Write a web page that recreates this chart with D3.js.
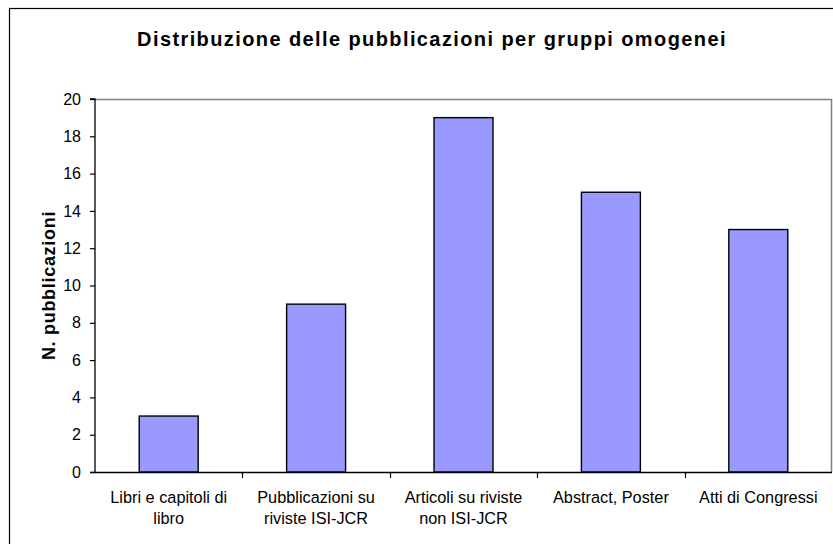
<!DOCTYPE html>
<html>
<head>
<meta charset="utf-8">
<script src="https://cdn.jsdelivr.net/npm/d3@7"></script>
<style>
  body { margin: 0; background: #fff; }
  svg { display: block; font-family: "Liberation Sans", Arial, sans-serif; }
</style>
</head>
<body>
<svg id="chart" width="833" height="544"></svg>
<script>
// Publications grouped by type
const categories = [
  ["Libri e capitoli di", "libro"],
  ["Pubblicazioni su", "riviste ISI-JCR"],
  ["Articoli su riviste", "non ISI-JCR"],
  ["Abstract, Poster"],
  ["Atti di Congressi"]
];
const values = [3, 9, 19, 15, 13];
const yTicks = [0, 2, 4, 6, 8, 10, 12, 14, 16, 18, 20];
const titleText = "Distribuzione delle pubblicazioni per gruppi omogenei";
const yTitle = "N. pubblicazioni";

const svg = d3.select("#chart");
const W = 833, H = 544;
const plot = { left: 95, right: 832, top: 99, bottom: 472 };

// Outer chart frame (extends past the window on the right and bottom)
svg.append("rect")
  .attr("x", 9.5).attr("y", 8.5)
  .attr("width", W + 20).attr("height", H + 20)
  .attr("fill", "#fff").attr("stroke", "#000").attr("stroke-width", 1.2);

const keys = categories.map(c => c.join(" "));
const x = d3.scaleBand().domain(keys).range([plot.left, plot.right]).paddingInner(0.6).paddingOuter(0.3);
const xBoundaries = d3.scaleBand().domain(keys).range([plot.left, plot.right]);
const y = d3.scaleLinear().domain([0, 20]).range([plot.bottom, plot.top]);

// Plot area frame (top and right edges in grey)
svg.append("path")
  .attr("d", `M${plot.left},${plot.top + 0.5}H${plot.right - 0.5}V${plot.bottom}`)
  .attr("fill", "none").attr("stroke", "#808080").attr("stroke-width", 1.5);

// Bars
svg.append("g").selectAll("rect")
  .data(values)
  .join("rect")
  .attr("x", (d, i) => x(keys[i]))
  .attr("y", d => y(d))
  .attr("width", x.bandwidth())
  .attr("height", d => y(0) - y(d))
  .attr("fill", "#9999FF")
  .attr("stroke", "#000")
  .attr("stroke-width", 1.4);

// Y axis
const yAxis = svg.append("g")
  .attr("transform", `translate(${plot.left},0)`)
  .call(d3.axisLeft(y).tickValues(yTicks).tickSize(5).tickPadding(9).tickFormat(d3.format("d")));
yAxis.select(".domain").attr("stroke", "#000").attr("stroke-width", 1.3).attr("d", `M-5,${plot.top}H0V${plot.bottom}`);
yAxis.selectAll(".tick line").attr("stroke", "#000").attr("stroke-width", 1.2);
yAxis.selectAll(".tick text").attr("font-size", 16).attr("fill", "#000")
  .attr("font-family", "'Liberation Sans', Arial, sans-serif");

// X axis line with ticks at category boundaries
const xg = svg.append("g");
xg.append("line")
  .attr("x1", plot.left - 5).attr("x2", plot.right)
  .attr("y1", plot.bottom + 0.5).attr("y2", plot.bottom + 0.5)
  .attr("stroke", "#000").attr("stroke-width", 1.3);
const bounds = keys.map(k => xBoundaries(k)).concat([plot.right]);
xg.selectAll("line.tick")
  .data(bounds.slice(1, -1))
  .join("line")
  .attr("class", "tick")
  .attr("x1", d => Math.round(d) + 0.5).attr("x2", d => Math.round(d) + 0.5)
  .attr("y1", plot.bottom).attr("y2", plot.bottom + 6)
  .attr("stroke", "#000").attr("stroke-width", 1.2);

// Category labels
categories.forEach((lines, i) => {
  const cx = xBoundaries(keys[i]) + xBoundaries.bandwidth() / 2;
  const t = svg.append("text")
    .attr("x", cx).attr("y", 502.5)
    .attr("text-anchor", "middle")
    .attr("font-size", 16.3).attr("fill", "#000");
  lines.forEach((ln, j) => {
    t.append("tspan").attr("x", cx).attr("dy", j === 0 ? 0 : 21).text(ln);
  });
});

// Title
svg.append("text")
  .attr("x", 432).attr("y", 46)
  .attr("text-anchor", "middle")
  .attr("font-size", 20).attr("font-weight", "bold")
  .attr("letter-spacing", 1.4)
  .text(titleText);

// Y axis title
svg.append("text")
  .attr("transform", `translate(55,${(plot.top + plot.bottom) / 2}) rotate(-90)`)
  .attr("text-anchor", "middle")
  .attr("font-size", 18).attr("font-weight", "bold")
  .attr("letter-spacing", 0.7)
  .text(yTitle);
</script>
</body>
</html>
